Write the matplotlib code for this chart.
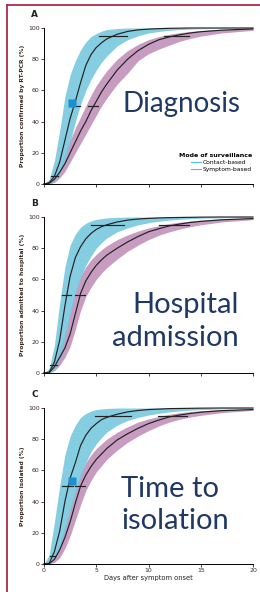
import matplotlib.pyplot as plt
from matplotlib.lines import Line2D

days = [0, 0.5, 1, 1.5, 2, 2.5, 3, 3.5, 4, 4.5, 5, 5.5, 6, 7, 8, 9, 10, 11, 12, 13, 14, 15, 17, 20]

# Panel A: diagnosis
a_contact = [0, 0.8, 5, 14, 28, 42, 53, 65, 76, 83, 87.5, 90.5, 93, 96, 97.8, 98.8, 99.3, 99.6, 99.8, 99.9, 100, 100, 100, 100]
a_contact_hi = [0, 3, 15, 34, 56, 70, 79, 86, 91, 94.5, 96.5, 98, 99, 99.7, 100, 100, 100, 100, 100, 100, 100, 100, 100, 100]
a_contact_lo = [0, 0.3, 2, 7, 15, 27, 40, 51, 60, 67, 73, 78, 82, 88.5, 92.5, 95, 96.8, 97.8, 98.5, 99, 99.3, 99.5, 99.8, 99.9]
a_symptom = [0, 0.5, 3, 7.5, 13, 20, 27, 34, 40, 47, 53, 59, 64, 73, 80, 85.5, 89.5, 92.5, 94.3, 95.7, 96.8, 97.6, 98.6, 99.4]
a_symptom_hi = [0, 1, 5, 11, 20, 28, 36, 43, 50, 57, 63, 68, 72.5, 80, 85.5, 89.5, 92.5, 94.5, 96, 97, 97.8, 98.4, 99.2, 99.7]
a_symptom_lo = [0, 0, 1, 4, 8, 14, 20, 26, 32, 38, 44, 50, 55, 64, 71, 79, 83.5, 86.5, 89, 91.5, 93.3, 94.8, 96.8, 98.5]

# Panel B: hospital admission
b_contact = [0, 0.5, 7, 21, 43, 62, 74, 81, 86, 89.5, 92, 93.8, 95, 96.8, 98, 98.7, 99.1, 99.4, 99.6, 99.7, 99.8, 99.9, 100, 100]
b_contact_hi = [0, 3, 18, 45, 68, 82, 89, 93.5, 96, 97.5, 98.5, 99, 99.4, 99.8, 100, 100, 100, 100, 100, 100, 100, 100, 100, 100]
b_contact_lo = [0, 0, 2, 9, 22, 37, 51, 61, 69, 75, 80, 83.5, 86.5, 90.5, 93, 95, 96.3, 97.3, 98, 98.5, 98.9, 99.2, 99.5, 99.8]
b_symptom = [0, 0.2, 4, 10, 16, 25, 38, 51, 59, 64.5, 69, 72.5, 75.5, 80, 84, 87.5, 90.5, 92.5, 94.3, 95.5, 96.5, 97.2, 98.2, 99]
b_symptom_hi = [0, 1, 7, 16, 26, 40, 53, 62, 68, 72.5, 76, 79, 81.5, 85.5, 88.5, 91, 93, 94.5, 95.8, 96.7, 97.4, 98, 98.8, 99.5]
b_symptom_lo = [0, 0, 1.5, 5, 10, 17, 28, 40, 49, 55, 60, 64, 67.5, 73, 78, 82, 85.5, 88.3, 90.5, 92.3, 93.8, 95, 96.8, 98.3]

# Panel C: time to isolation
c_contact = [0, 0.5, 8, 21, 40, 55, 65, 76, 82.5, 87, 90, 92.5, 94, 96, 97.5, 98.4, 99, 99.3, 99.6, 99.7, 99.8, 99.9, 100, 100]
c_contact_hi = [0, 6, 27, 50, 70, 82, 89, 94, 96.5, 98, 99, 99.4, 99.7, 100, 100, 100, 100, 100, 100, 100, 100, 100, 100, 100]
c_contact_lo = [0, 0, 3, 10, 21, 34, 45, 56, 65, 72, 77, 81, 84.5, 89, 92, 94, 95.5, 96.6, 97.5, 98.1, 98.6, 99, 99.4, 99.7]
c_symptom = [0, 0.2, 3, 9, 17, 27, 39, 50, 57, 62.5, 67, 70.5, 74, 79.5, 83.5, 87, 90, 92.3, 94.3, 95.5, 96.5, 97.3, 98.3, 99]
c_symptom_hi = [0, 1, 6, 14, 25, 36, 48, 58, 65, 70, 74, 77, 80, 84.5, 88, 91, 93, 94.6, 96, 97, 97.7, 98.3, 99, 99.5]
c_symptom_lo = [0, 0, 1, 4, 10, 18, 28, 38, 47, 53.5, 59, 63, 67, 73, 78, 82, 85.5, 88.5, 91, 92.8, 94.2, 95.3, 97, 98.5]

# interval bars (day from, day to) at the 5%, 50% and 95% levels
a_bars = {5: [(0.7, 1.3)], 50: [(2.4, 3.4), (4.2, 5.2)], 95: [(5.3, 7.9), (11.5, 13.9)]}
b_bars = {5: [(0.6, 1.2)], 50: [(1.7, 2.6), (2.95, 3.9)], 95: [(4.5, 7.7), (11.0, 13.9)]}
c_bars = {5: [(0.55, 1.1)], 50: [(1.7, 2.8), (2.95, 3.9)], 95: [(4.9, 8.35), (10.9, 13.7)]}

# blue squares (day, percent)
a_square = (2.7, 52)
c_square = (2.7, 53)

titles = ["Diagnosis", "Hospital\nadmission", "Time to\nisolation"]
ylabels = ["Proportion confirmed by RT-PCR (%)", "Proportion admitted to hospital (%)", "Proportion isolated (%)"]
letters = ["A", "B", "C"]

blue = "#78c8de"
purple = "#bd8bb5"
navy = "#1f3864"
tickcol = "#3b2a22"

fig = plt.figure(figsize=(2.6, 5.92), dpi=100)

panels = [
    (a_contact, a_contact_lo, a_contact_hi, a_symptom, a_symptom_lo, a_symptom_hi, a_bars, a_square),
    (b_contact, b_contact_lo, b_contact_hi, b_symptom, b_symptom_lo, b_symptom_hi, b_bars, None),
    (c_contact, c_contact_lo, c_contact_hi, c_symptom, c_symptom_lo, c_symptom_hi, c_bars, c_square),
]
bottoms = [1 - 184 / 592, 1 - 373 / 592, 1 - 564 / 592]
height = 156 / 592

for i, (con, con_lo, con_hi, sym, sym_lo, sym_hi, bars, square) in enumerate(panels):
    ax = fig.add_axes([44 / 260, bottoms[i], 209 / 260, height])
    ax.fill_between(days, sym_lo, sym_hi, color=purple, alpha=0.85, lw=0)
    ax.fill_between(days, con_lo, con_hi, color=blue, alpha=0.9, lw=0)
    ax.plot(days, con, color="#222222", lw=0.85, clip_on=False)
    ax.plot(days, sym, color="#222222", lw=0.85, clip_on=False)
    for level, spans in bars.items():
        for lo, hi in spans:
            ax.plot([lo, hi], [level, level], color="#222222", lw=0.85, clip_on=False)
    if square is not None:
        ax.plot(square[0], square[1], marker="s", ms=5.5, color="#1b8fd2", mec="none")

    ax.set_xlim(0, 20)
    ax.set_ylim(0, 100)
    ax.set_xticks([0, 5, 10, 15, 20])
    ax.set_yticks([0, 20, 40, 60, 80, 100])
    ax.spines["top"].set_visible(False)
    ax.spines["right"].set_visible(False)
    ax.tick_params(labelsize=4.5, length=2, width=0.6, pad=1, colors="#222222", labelcolor=tickcol)
    for s in ax.spines.values():
        s.set_linewidth(0.7)
    if i < 2:
        ax.set_xticklabels([])
    else:
        ax.set_xlabel("Days after symptom onset", fontsize=4.8, labelpad=1, color="#222222")
    ax.set_ylabel(ylabels[i], fontsize=4.3, labelpad=2, color=tickcol, fontweight="bold")
    ax.text(-0.03, 1.06, letters[i], transform=ax.transAxes, fontsize=6.5,
            fontweight="bold", ha="right", va="bottom", color="#222222")

    if i == 0:
        ax.text(0.66, 0.51, titles[i], transform=ax.transAxes, fontsize=20,
                family="Lato", color=navy, ha="center", va="center")
        handles = [Line2D([], [], color="#5bbfdc", lw=0.8), Line2D([], [], color=purple, lw=0.8)]
        leg = ax.legend(handles, ["Contact-based", "Symptom-based"], title="Mode of surveillance",
                        loc="lower right", bbox_to_anchor=(1.02, 0.04), fontsize=4.3, frameon=False,
                        handlelength=1.6, handletextpad=0.3, labelspacing=0.3,
                        title_fontproperties={"size": 4.5, "weight": "bold"})
        leg._legend_box.align = "right"
    elif i == 1:
        ax.text(0.93, 0.33, titles[i], transform=ax.transAxes, fontsize=21,
                family="Lato", color=navy, ha="right", va="center", linespacing=1.3)
    else:
        ax.text(0.37, 0.38, titles[i], transform=ax.transAxes, fontsize=21,
                family="Lato", color=navy, ha="left", va="center", linespacing=1.3)

# crimson frame on the top and left
fig.add_artist(Line2D([7 / 260, 1], [1 - 5 / 592, 1 - 5 / 592], color="#b0284c", lw=1.3))
fig.add_artist(Line2D([7 / 260, 7 / 260], [0, 1 - 5 / 592], color="#b0284c", lw=1.3))

fig.savefig("out.png", dpi=100)
